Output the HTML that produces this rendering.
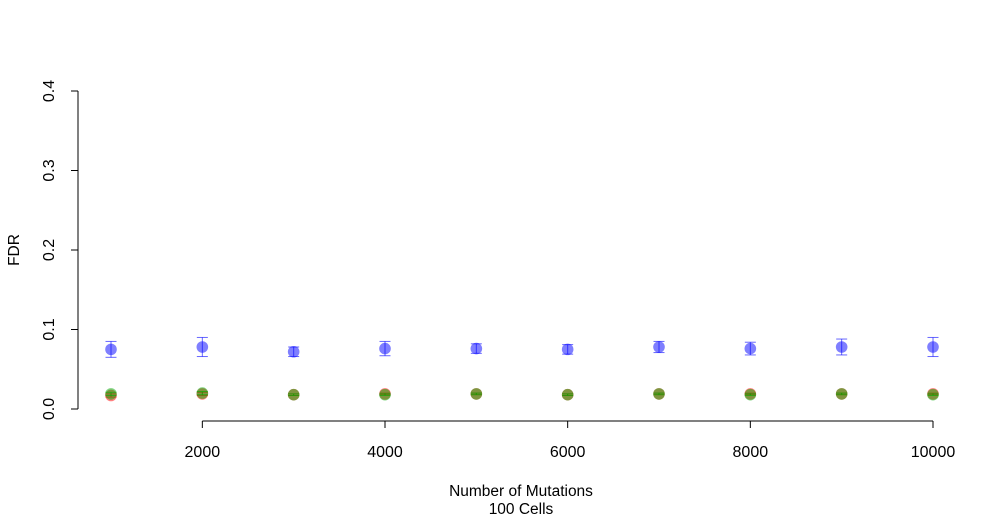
<!DOCTYPE html>
<html><head><meta charset="utf-8"><style>body{margin:0;background:#fff}svg{display:block;font-family:"Liberation Sans",Arial,sans-serif}</style></head>
<body>
<svg id="chart" width="1007" height="520" viewBox="0 0 1007 520">
<g id="axes"></g><g id="marks"></g>
<text x="521" y="496" font-size="15.5" text-anchor="middle">Number of Mutations</text>
<text x="521" y="514" font-size="15.5" text-anchor="middle">100 Cells</text>
<text transform="translate(19,250) rotate(-90)" font-size="15.5" text-anchor="middle">FDR</text>
</svg>
<script>
const mutations=[1000,2000,3000,4000,5000,6000,7000,8000,9000,10000];
const blueFDR=[0.075,0.078,0.072,0.076,0.076,0.075,0.078,0.076,0.078,0.078];
const blueErr=[0.010,0.012,0.006,0.009,0.006,0.006,0.007,0.008,0.010,0.012];
const redFDR=[0.017,0.019,0.018,0.019,0.019,0.018,0.019,0.019,0.019,0.019];
const redErr=[0.002,0.002,0.001,0.001,0.001,0.001,0.001,0.001,0.001,0.001];
const greenFDR=[0.019,0.020,0.018,0.018,0.019,0.018,0.019,0.018,0.019,0.018];
const greenErr=[0.002,0.002,0.001,0.001,0.001,0.001,0.001,0.001,0.001,0.001];
const xTicks=[2000,4000,6000,8000,10000];
const yTicks=[0.0,0.1,0.2,0.3,0.4];
const NS="http://www.w3.org/2000/svg";
const X=v=>111+(v-1000)*(933-111)/9000;
const Y=v=>409-v*(409-91)/0.4;
function mk(p,t,a){const e=document.createElementNS(NS,t);for(const k in a)e.setAttribute(k,a[k]);p.appendChild(e);return e;}
const ax=document.getElementById('axes'),mg=document.getElementById('marks');
let l=mk(ax,'line',{x1:78,x2:78,y1:Y(0),y2:Y(0.4),stroke:'#000'});


yTicks.forEach(t=>{
 let tk=mk(ax,'line',{x1:71,x2:78,y1:Y(t),y2:Y(t),stroke:'#000'});
 
 
 let tx=mk(ax,'text',{transform:`translate(54,${Y(t)}) rotate(-90)`,'font-size':16,'text-anchor':'middle'});
 tx.textContent=t.toFixed(1);
 
 
});
l=mk(ax,'line',{x1:X(2000),x2:X(10000),y1:421,y2:421,stroke:'#000'});


xTicks.forEach(t=>{
 let tk=mk(ax,'line',{x1:X(t),x2:X(t),y1:421,y2:428,stroke:'#000'});
 
 
 let tx=mk(ax,'text',{x:X(t),y:457,'font-size':16,'text-anchor':'middle'});
 tx.textContent=t;
 
 
});
function series(vals,errs,col,lc,name){
 mutations.forEach((m,i)=>{
  const x=X(m),y=Y(vals[i]);
  const g=mk(mg,'g',{});
  
  
  mk(g,'circle',{cx:x,cy:y,r:5.8,fill:col});
  const y1=Y(vals[i]-errs[i]),y2=Y(vals[i]+errs[i]);
  mk(g,'line',{x1:x,x2:x,y1:y1,y2:y2,stroke:lc,'stroke-width':1});
  mk(g,'line',{x1:x-5.5,x2:x+5.5,y1:y1,y2:y1,stroke:lc});
  mk(g,'line',{x1:x-5.5,x2:x+5.5,y1:y2,y2:y2,stroke:lc});
 });
}
series(blueFDR,blueErr,'rgba(0,0,255,0.5)','rgba(0,0,255,0.6)','blue');
series(redFDR,redErr,'rgba(255,0,0,0.5)','rgba(255,0,0,0.6)','red');
series(greenFDR,greenErr,'rgba(0,170,0,0.5)','rgba(0,170,0,0.6)','green');
</script>
</body></html>
